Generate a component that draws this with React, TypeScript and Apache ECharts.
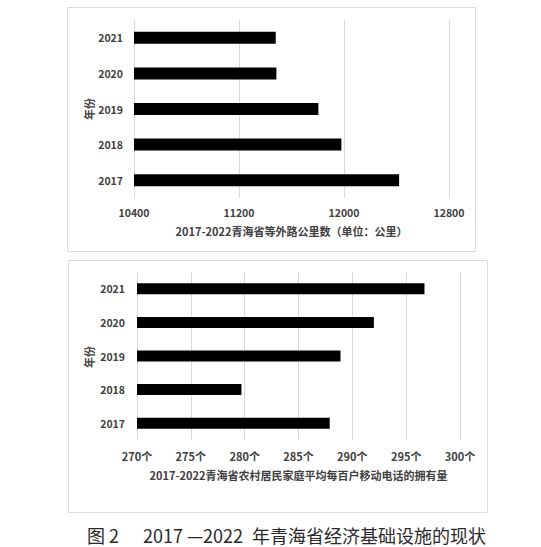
import { useEffect, useRef } from 'react';
import * as echarts from 'echarts';

const years = ['2017', '2018', '2019', '2020', '2021'];
const roadKm = [12420, 11980, 11805, 11485, 11480];
const phoneCount = [287.9, 279.7, 288.9, 292.0, 296.7];

const roadAxis = { min: 10400, max: 12800, interval: 800 };
const phoneAxis = { min: 270, max: 300, interval: 5 };

const roadName = '2017-2022青海省等外路公里数（单位：公里）';
const phoneName = '2017-2022青海省农村居民家庭平均每百户移动电话的拥有量';
const yName = '年份';

const FONT = '"Noto Sans CJK SC", "Noto Sans", sans-serif';
const labelStyle = { color: '#404040', fontSize: 10.5, fontWeight: 'bold' as const, fontFamily: FONT };

export default function App() {
  const ref = useRef<HTMLDivElement>(null);

  useEffect(() => {
    if (!ref.current) return;
    const chart = echarts.init(ref.current, null, { renderer: 'svg' });

    const option: echarts.EChartsOption = {
      animation: false,
      backgroundColor: '#fff',
      grid: [
        { left: 134, right: 92, top: 20, height: 178 },
        { left: 137, right: 81, top: 272, height: 168 },
      ],
      xAxis: [
        {
          gridIndex: 0,
          type: 'value',
          ...roadAxis,
          axisLine: { show: false },
          axisTick: { show: false },
          axisLabel: { ...labelStyle, margin: 9, formatter: (v: number) => String(v) },
          splitLine: { lineStyle: { color: '#d9d9d9' } },
          name: roadName,
          nameLocation: 'middle',
          nameGap: 27,
          nameTextStyle: { ...labelStyle, fontSize: 11 },
        },
        {
          gridIndex: 1,
          type: 'value',
          ...phoneAxis,
          axisLine: { show: false },
          axisTick: { show: false },
          axisLabel: { ...labelStyle, fontSize: 11, margin: 10, formatter: '{value}个' },
          splitLine: { lineStyle: { color: '#d9d9d9' } },
          name: phoneName,
          nameLocation: 'middle',
          nameGap: 29,
          nameTextStyle: { ...labelStyle, fontSize: 11 },
        },
      ],
      yAxis: [
        {
          gridIndex: 0,
          type: 'category',
          data: years,
          axisLine: { show: false },
          axisTick: { show: false },
          axisLabel: { ...labelStyle, margin: 11 },
        },
        {
          gridIndex: 1,
          type: 'category',
          data: years,
          axisLine: { show: false },
          axisTick: { show: false },
          axisLabel: { ...labelStyle, margin: 12 },
        },
      ],
      series: [
        {
          type: 'bar',
          xAxisIndex: 0,
          yAxisIndex: 0,
          data: roadKm,
          barWidth: 12,
          itemStyle: { color: '#000' },
        },
        {
          type: 'bar',
          xAxisIndex: 1,
          yAxisIndex: 1,
          data: phoneCount,
          barWidth: 11,
          itemStyle: { color: '#000' },
        },
      ],
      graphic: [
        {
          type: 'rect',
          shape: { x: 67.5, y: 7.5, width: 408, height: 244 },
          style: { fill: 'none', stroke: '#dcdcdc', lineWidth: 1 },
          z: -1,
        },
        {
          type: 'rect',
          shape: { x: 68.5, y: 260.5, width: 419, height: 252 },
          style: { fill: 'none', stroke: '#dcdcdc', lineWidth: 1 },
          z: -1,
        },
        {
          type: 'text',
          x: 89,
          y: 109,
          rotation: Math.PI / 2,
          style: { text: yName, align: 'center', verticalAlign: 'middle', fill: '#404040', fontSize: 11, fontWeight: 'bold', fontFamily: FONT },
        },
        {
          type: 'text',
          x: 89,
          y: 357,
          rotation: Math.PI / 2,
          style: { text: yName, align: 'center', verticalAlign: 'middle', fill: '#404040', fontSize: 11, fontWeight: 'bold', fontFamily: FONT },
        },
        {
          type: 'text',
          x: 87,
          y: 535,
          style: { text: '图 2', verticalAlign: 'middle', fill: '#2a2a2a', fontSize: 18, fontFamily: FONT },
        },
        {
          type: 'text',
          x: 143,
          y: 535,
          style: { text: '2017 —2022', verticalAlign: 'middle', fill: '#2a2a2a', fontSize: 18, fontFamily: FONT },
        },
        {
          type: 'text',
          x: 252,
          y: 535,
          style: { text: '年青海省经济基础设施的现状', verticalAlign: 'middle', fill: '#2a2a2a', fontSize: 18, fontFamily: FONT },
        },
      ],
    };

    chart.setOption(option);
    return () => chart.dispose();
  }, []);

  return <div ref={ref} style={{ position: 'absolute', left: 0, top: 0, width: 541, height: 547 }} />;
}
